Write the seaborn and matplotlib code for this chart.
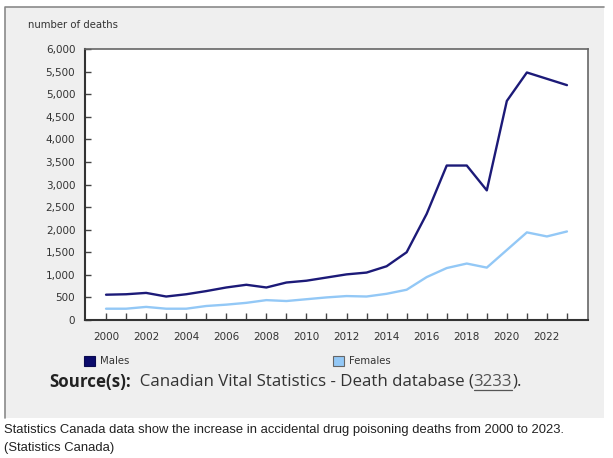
import matplotlib
matplotlib.use("Agg")
import matplotlib.pyplot as plt
from matplotlib.patches import Rectangle
from matplotlib.lines import Line2D
import seaborn as sns
import pandas as pd

years = list(range(2000, 2024))
males = [560, 570, 600, 520, 570, 640, 720, 780, 720, 830, 870, 940, 1010, 1050,
         1190, 1500, 2350, 3420, 3420, 2870, 4850, 5480, 5340, 5200]
females = [250, 250, 290, 250, 250, 310, 340, 380, 440, 420, 460, 500, 530, 520,
           580, 670, 950, 1150, 1250, 1160, 1550, 1940, 1850, 1960]
series_names = ["Males", "Females"]
series_colors = ["#1c1a78", "#93c8f6"]
y_ticks = list(range(0, 6001, 500))
y_label = "number of deaths"
source_parts = ["Source(s):", "  Canadian Vital Statistics - Death database (", "3233", ")."]
caption = ["Statistics Canada data show the increase in accidental drug poisoning deaths from 2000 to 2023.",
           "(Statistics Canada)"]

df = pd.DataFrame({
    "year": years * 2,
    "deaths": males + females,
    "sex": ["Males"] * len(years) + ["Females"] * len(years),
})

sns.set_theme(style="white")
plt.rcParams["font.family"] = ["DejaVu Sans"]

W, H = 613, 458
fig = plt.figure(figsize=(W / 100, H / 100), dpi=100)
fig.patch.set_facecolor("white")

def fx(px):
    return px / W

def fy(py):
    return 1 - py / H

# gray panel
fig.patches.append(Rectangle((fx(5), fy(418)), fx(604) - fx(5), fy(7) - fy(418),
                             transform=fig.transFigure, facecolor="#efefef",
                             edgecolor="none", zorder=-5))
fig.lines.append(Line2D([fx(5), fx(5), fx(604)], [fy(418), fy(7), fy(7)],
                        transform=fig.transFigure, color="#8a8a8a", lw=1.2, zorder=-4))

ax = fig.add_axes([fx(85), fy(320), fx(588) - fx(85), fy(49) - fy(320)])
ax.set_zorder(2)
ax.set_facecolor("white")
sns.lineplot(data=df, x="year", y="deaths", hue="sex", hue_order=series_names,
             palette=dict(zip(series_names, series_colors)), linewidth=1.7,
             legend=False, ax=ax)
ax.set_xlim(1998.95, 2024.05)
ax.set_ylim(0, 6000)
ax.set_xlabel("")
ax.set_ylabel("")
ax.set_xticks(years)
ax.set_xticklabels([str(y) if y % 2 == 0 else "" for y in years])
ax.set_yticks(y_ticks)
ax.set_yticklabels([f"{v:,}" for v in y_ticks])
ax.tick_params(axis="x", direction="in", length=5, width=1, color="#444",
               labelsize=7.5, labelcolor="#333", pad=9, bottom=True)
ax.tick_params(axis="y", direction="in", length=4, width=1, color="#444",
               labelsize=7.5, labelcolor="#333", pad=7, left=True)
for s in ax.spines.values():
    s.set_color("#666666")
    s.set_linewidth(1.2)
    s.set_visible(True)
ax.spines["left"].set_color("#333333")
ax.spines["bottom"].set_color("#333333")
ax.spines["left"].set_linewidth(1.5)
ax.spines["bottom"].set_linewidth(1.5)

fig.text(fx(28), fy(25), y_label, fontsize=7.3, color="#333", ha="left", va="center")

# legend
legend_pos = [(84, 100), (333, 349)]
for (sx, tx), name, col in zip(legend_pos, series_names, series_colors):
    ec = "#0a0a50" if name == "Males" else "#666666"
    fc = "#0b0b6b" if name == "Males" else col
    fig.patches.append(Rectangle((fx(sx), fy(366)), fx(11), 10 / H,
                                 transform=fig.transFigure, facecolor=fc,
                                 edgecolor=ec, lw=0.8, zorder=2))
    fig.text(fx(tx), fy(361), name, fontsize=7.3, color="#333", ha="left", va="center")

# source line
fig.canvas.draw()
x = 49
styles = [dict(fontweight="bold", color="#222"), dict(color="#333"),
          dict(color="#555"), dict(color="#333")]
for i, (part, st) in enumerate(zip(source_parts, styles)):
    t = fig.text(fx(x), fy(382), part, fontsize=12.2, family="Open Sans",
                 ha="left", va="center", **st)
    fig.canvas.draw()
    bb = t.get_window_extent()
    if i == 2:
        fig.lines.append(Line2D([bb.x0 / W, bb.x1 / W], [fy(389.5), fy(389.5)],
                                transform=fig.transFigure, color="#555", lw=0.9))
    x = bb.x1

fig.text(fx(4), fy(430), caption[0], fontsize=9.4, family="Liberation Sans",
         color="#222", ha="left", va="center")
fig.text(fx(4), fy(448), caption[1], fontsize=9.4, family="Liberation Sans",
         color="#222", ha="left", va="center")

fig.savefig("out.png", dpi=100)
